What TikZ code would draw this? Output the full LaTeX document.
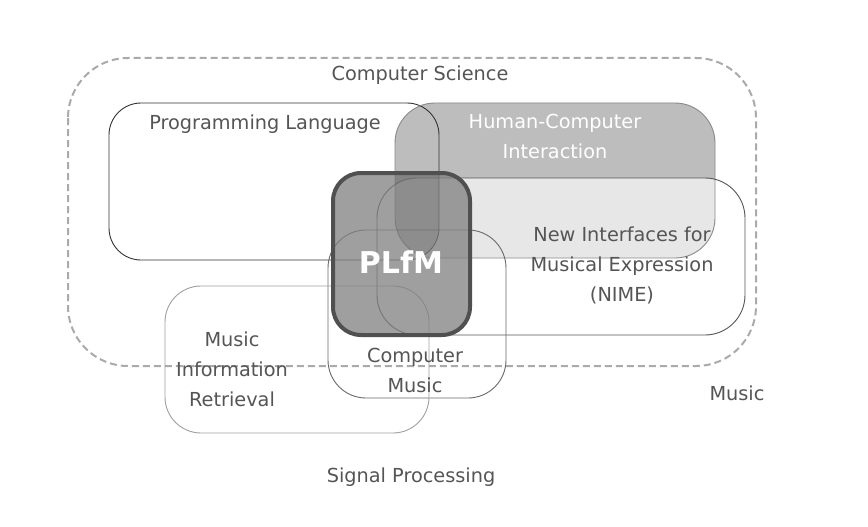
\documentclass[tikz,border=0pt]{standalone}
\usepackage{fontspec}
\setmainfont{DejaVu Sans}
\definecolor{txt}{HTML}{555555}
\definecolor{hcifill}{HTML}{BDBDBD}
\definecolor{dashgray}{HTML}{AAAAAA}
\definecolor{plline}{HTML}{333333}
\definecolor{hciline}{HTML}{8A8A8A}
\definecolor{nimeline}{HTML}{555555}
\definecolor{cmline}{HTML}{6A6A6A}
\definecolor{mirline}{HTML}{A0A0A0}
\definecolor{plfmline}{HTML}{505050}
\definecolor{plfmfill}{HTML}{808080}
\begin{document}
\begin{tikzpicture}[x=1pt,y=-1pt,
  lbl/.style={text=txt, align=center, inner sep=0pt, font=\fontsize{19.3}{30}\selectfont},
  thin/.style={line width=0.9pt}]
\useasboundingbox (0,0) rectangle (868,527);
\fill[white] (0,0) rectangle (868,527);
% Computer Science (dashed)
\draw[dashgray, line width=2pt, dash pattern=on 7pt off 4pt, rounded corners=60pt] (68,58) rectangle (756,366);
% fills
\fill[hcifill, rounded corners=40pt] (395,103) rectangle (715,258);
\fill[white, fill opacity=0.65, rounded corners=40pt] (377,178) rectangle (745,335);
% thin borders
\draw[plline, thin, rounded corners=32pt] (109,103) rectangle (439,260);
\draw[hciline, thin, rounded corners=40pt] (395,103) rectangle (715,258);
\draw[nimeline, thin, rounded corners=40pt] (377,178) rectangle (745,335);
\draw[cmline, thin, rounded corners=38pt] (328,230) rectangle (506,398);
\draw[mirline, thin, rounded corners=36pt] (165,286) rectangle (429,433);
% PLfM fill
\fill[plfmfill, fill opacity=0.75, rounded corners=28pt] (333,173) rectangle (470,335);
\begin{scope}
  \clip[rounded corners=32pt] (109,103) rectangle (439,260);
  \clip[rounded corners=40pt] (395,103) rectangle (715,258);
  \clip[rounded corners=28pt] (333,173) rectangle (470,335);
  \fill[black, fill opacity=0.08] (395,173) rectangle (439,260);
\end{scope}
\draw[plfmline, line width=4pt, rounded corners=28pt] (333,173) rectangle (470,335);
% labels
\node[lbl] (cs) at (420,75) {Computer Science};
\node[lbl] (pl) at (265,124) {Programming Language};
\node[lbl, text=white] (hci) at (555,136) {Human-Computer\\Interaction};
\node[lbl] (nime) at (622,265) {New Interfaces for\\Musical Expression\\(NIME)};
\node[lbl] (cm) at (415,370) {Computer\\Music};
\node[lbl] (mir) at (232,369) {Music\\Information\\Retrieval};
\node[lbl] (mus) at (737,393) {Music};
\node[lbl] (sp) at (411,477) {Signal Processing};
\node[text=white, inner sep=0pt, font=\bfseries\fontsize{30}{36}\selectfont] (plfm) at (401,262) {PLfM};
\end{tikzpicture}
\end{document}
